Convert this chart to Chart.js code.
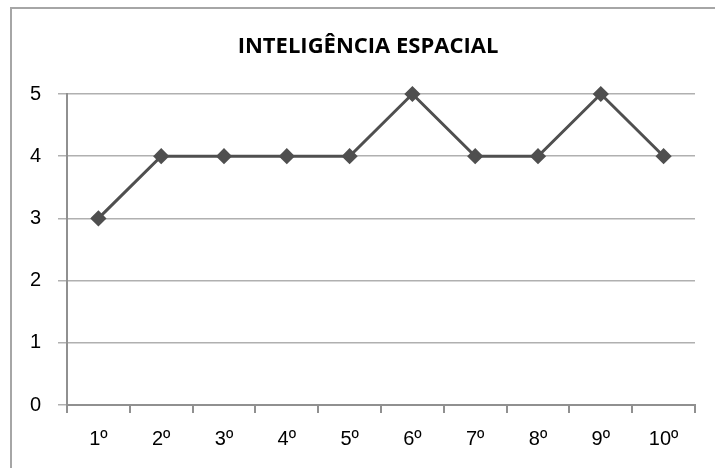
<!DOCTYPE html>
<html lang="pt-BR">
<head>
	<meta charset="UTF-8">
	<title>Inteligência Espacial</title>
	<script src="https://cdn.jsdelivr.net/npm/chart.js@4.4.0/dist/chart.umd.min.js"></script>
	<style>
		html, body { margin: 0; padding: 0; background: #fff; }
		#wrap { width: 715px; height: 468px; position: relative; }
	</style>
</head>
<body>
	<div id="wrap">
		<canvas id="grafico_linha" width="715" height="468"></canvas>
	</div>
	<script>
		// dados
		const categorias = ['1º', '2º', '3º', '4º', '5º', '6º', '7º', '8º', '9º', '10º'];
		const valores = [3, 4, 4, 4, 4, 5, 4, 4, 5, 4];
		const ticksY = [0, 1, 2, 3, 4, 5];
		const titulo = 'INTELIGÊNCIA ESPACIAL';

		// moldura (só topo e esquerda ficam visíveis) + título centrado no quadro
		const moldura = {
			id: 'moldura',
			beforeDraw(chart) {
				const ctx = chart.ctx;
				ctx.save();
				ctx.fillStyle = '#fff';
				ctx.fillRect(0, 0, chart.width, chart.height);
				ctx.strokeStyle = '#a6a6a6';
				ctx.lineWidth = 2;
				ctx.beginPath();
				ctx.moveTo(11, chart.height);
				ctx.lineTo(11, 8);
				ctx.lineTo(chart.width, 8);
				ctx.stroke();

				ctx.fillStyle = '#000';
				ctx.font = 'bold 22px "Open Sans", sans-serif';
				ctx.textAlign = 'center';
				ctx.textBaseline = 'middle';
				ctx.fillText(titulo, 368, 47);
				ctx.restore();
			}
		};

		Chart.defaults.font.family = '"Liberation Sans", Arial, sans-serif';
		Chart.defaults.color = '#000';

		new Chart(document.querySelector('#grafico_linha'), {
			type: 'line',
			data: {
				labels: categorias,
				datasets: [{
					label: 'Inteligência espacial',
					data: valores,
					borderColor: '#4f4f4f',
					backgroundColor: '#4f4f4f',
					borderWidth: 3,
					pointStyle: 'rectRot',
					pointRadius: 6,
					pointHoverRadius: 6,
					tension: 0,
					clip: false
				}]
			},
			plugins: [moldura],
			options: {
				responsive: false,
				animation: false,
				layout: { padding: { left: 0, right: 20, top: 94, bottom: 0 } },
				plugins: {
					legend: { display: false },
					tooltip: { enabled: false },
					title: { display: false }
				},
				scales: {
					x: {
						offset: true,
						grid: {
							offset: true,
							drawOnChartArea: false,
							drawTicks: true,
							tickLength: 8,
							color: '#909090',
							lineWidth: 2
						},
						border: { color: '#909090', width: 2 },
						ticks: { font: { size: 20 }, padding: 14, maxRotation: 0 },
						afterFit: s => { s.height = 63; }
					},
					y: {
						min: 0,
						max: 5,
						afterBuildTicks: s => { s.ticks = ticksY.map(v => ({ value: v })); },
						grid: { color: '#b0b0b0', lineWidth: 1.5, tickLength: 9 },
						border: { color: '#909090', width: 2 },
						ticks: { font: { size: 20 }, padding: 17 },
						afterFit: s => { s.width = 67; }
					}
				}
			}
		});
	</script>
</body>
</html>
